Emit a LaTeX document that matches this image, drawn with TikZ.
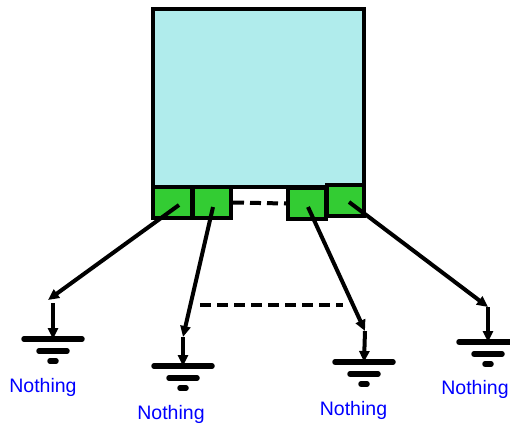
\documentclass[tikz,border=0pt]{standalone}
\usepackage{fontspec}
\setmainfont{Liberation Sans}
\usetikzlibrary{arrows.meta}
\definecolor{boxcyan}{HTML}{B0ECEC}
\definecolor{pingreen}{HTML}{33CC33}
\definecolor{labelblue}{HTML}{0000FF}
\begin{document}
\begin{tikzpicture}[x=1pt,y=-1pt,
  chip/.style={draw=black,line width=4.5pt,fill=boxcyan,inner sep=0pt,minimum width=211pt,minimum height=178pt},
  pin/.style={draw=black,line width=4pt,fill=pingreen,inner sep=0pt,minimum width=38pt,minimum height=31pt},
  wire/.style={line width=4pt,-{Triangle[length=11pt,width=10pt]}},
  dashwire/.style={line width=4pt,dash pattern=on 11pt off 6pt},
  gbar/.style={line width=5.5pt,line cap=round},
  lbl/.style={text=labelblue,font=\fontsize{19.5pt}{22pt}\selectfont,inner sep=0pt,anchor=base}
]
\useasboundingbox (0,0) rectangle (510,425);
\clip (0,0) rectangle (510,425);
% chip body
\node[chip] (chip) at (258.5,98) {};
% pins
\node[pin,minimum width=39pt] (p1) at (172.5,202.5) {};
\node[pin] (p2) at (212,202.5) {};
\node[pin] (p3) at (307,203.5) {};
\node[pin,minimum width=37pt] (p4) at (345.5,200.5) {};
% dashed link between pins
\draw[dashwire] (p2.east) -- (p3.west);
% connector start points
\coordinate (s1) at (179,205);
\coordinate (s2) at (213,207);
\coordinate (s3) at (308,207);
\coordinate (s4) at (349,202);
% slanted arrow ends
\coordinate (e1) at (48,300);
\coordinate (e2) at (183,337);
\coordinate (e3) at (365,331);
\coordinate (e4) at (488,307);
% vertical starts
\coordinate (v1) at (53,303);
% ground tops
\coordinate (g1) at (53,339);
\coordinate (g2) at (183,366);
\coordinate (g3) at (364,362);
\coordinate (g4) at (488,342);
% slanted arrows
\draw[wire] (s1) -- (e1);
\draw[wire] (s2) -- (e2);
\draw[wire] (s3) -- (e3);
\draw[wire] (s4) -- (e4);
% vertical arrows
\draw[wire] (v1) -- (g1);
\draw[wire] (e2) -- (g2);
\draw[wire] (e3) -- (g3);
\draw[wire] (e4) -- (g4);
% lower dashed line
\coordinate (d1) at (200,305);
\coordinate (d2) at (343,305);
\draw[dashwire] (d1) -- (d2);
% ground symbols
\foreach \g in {g1,g2,g3,g4}{
  \draw[gbar] ([xshift=-29pt]\g) -- ([xshift=29pt]\g);
  \draw[gbar] ([xshift=-14pt,yshift=-12pt]\g) -- ([xshift=14pt,yshift=-12pt]\g);
  \draw[gbar] ([xshift=-3pt,yshift=-22pt]\g) -- ([xshift=3pt,yshift=-22pt]\g);
}
% labels
\node[lbl] (l1) at (43,392) {Nothing};
\node[lbl] (l2) at (171,419) {Nothing};
\node[lbl] (l3) at (353.5,415) {Nothing};
\node[lbl] (l4) at (475,394) {Nothing};
\end{tikzpicture}
\end{document}
